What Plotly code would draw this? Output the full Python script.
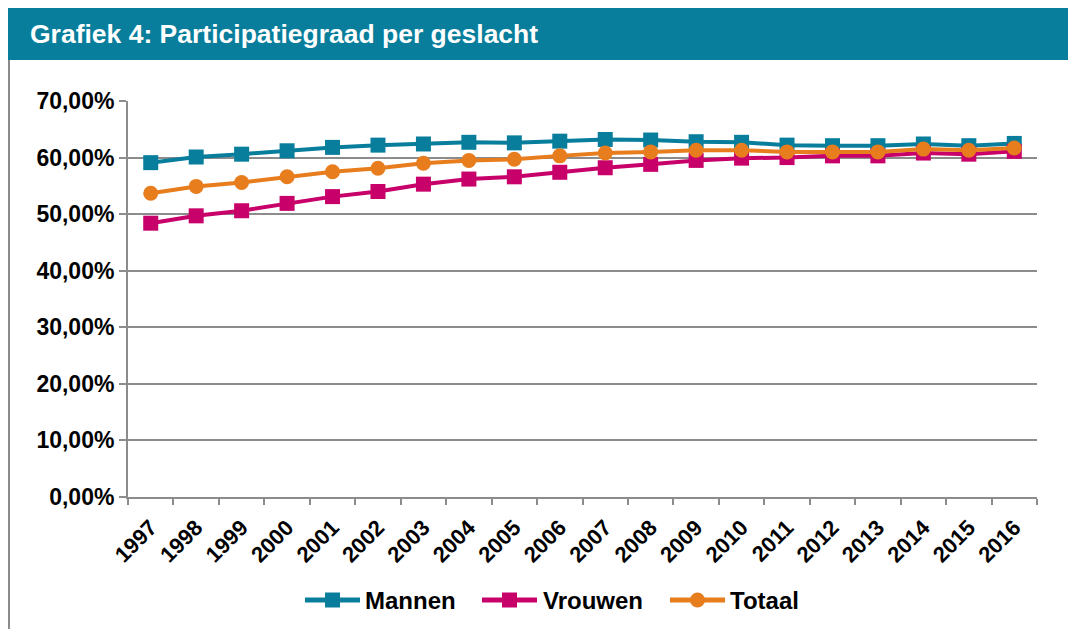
import plotly.graph_objects as go

years = [str(y) for y in range(1997, 2017)]
mannen = [59.1, 60.1, 60.6, 61.2, 61.8, 62.2, 62.4, 62.7, 62.6, 62.9,
          63.2, 63.1, 62.8, 62.7, 62.2, 62.1, 62.1, 62.4, 62.1, 62.5]
vrouwen = [48.4, 49.7, 50.6, 51.9, 53.1, 54.0, 55.3, 56.2, 56.6, 57.4,
           58.2, 58.8, 59.5, 59.9, 60.0, 60.3, 60.3, 60.8, 60.6, 61.1]
totaal = [53.7, 54.9, 55.6, 56.6, 57.5, 58.1, 59.0, 59.5, 59.7, 60.3,
          60.8, 61.0, 61.3, 61.3, 61.0, 61.0, 61.0, 61.5, 61.3, 61.7]
series_names = ["Mannen", "Vrouwen", "Totaal"]
y_ticks = [0, 10, 20, 30, 40, 50, 60, 70]
title_text = "Grafiek 4: Participatiegraad per geslacht"

TEAL = "#087E9C"
MAGENTA = "#C8006A"
ORANGE = "#E87D1E"
GRID = "#8C8C8C"
FONT = "Arial, Liberation Sans, sans-serif"

colors = [TEAL, MAGENTA, ORANGE]
symbols = ["square", "square", "circle"]
values = [mannen, vrouwen, totaal]

fig = go.Figure()
for name, vals, col, sym in zip(series_names, values, colors, symbols):
    fig.add_trace(go.Scatter(x=years, y=vals, name=name, mode="lines+markers",
                             line=dict(color=col, width=4),
                             marker=dict(symbol=sym, size=15, color=col),
                             showlegend=False))

# page body has an 8px margin: work in reference pixels, shift by OFF
OFF = 8
W, H = 1076 - OFF, 629 - OFF
L, T = 128 - OFF, 101 - OFF
R = 1076 - 1037
B = 629 - 497
pw, ph = W - L - R, H - T - B

def px(x):
    return (x - OFF - L) / pw

def py(y):
    return (H - B - (y - OFF)) / ph

fig.update_layout(
    width=W, height=H,
    margin=dict(l=L, r=R, t=T, b=B, autoexpand=False),
    paper_bgcolor="white", plot_bgcolor="white",
    font=dict(family=FONT, color="black"),
    showlegend=False,
    xaxis=dict(type="category", showgrid=False, showline=True, linecolor=GRID, linewidth=2,
               ticks="outside", tickson="boundaries", ticklen=6, tickcolor=GRID, tickwidth=2,
               tickangle=-45, tickfont=dict(family=FONT, size=22, color="black"),
               tickvals=years, ticktext=["<b>%s</b>" % y for y in years],
               ticklabelstandoff=7, range=[-0.5, 19.5]),
    yaxis=dict(range=[0, 70], tickvals=y_ticks,
               ticktext=["<b>%d,00%%</b>" % v for v in y_ticks],
               showgrid=True, gridcolor=GRID, gridwidth=2, zeroline=False,
               showline=True, linecolor=GRID, linewidth=2,
               ticks="outside", ticklen=7, tickcolor=GRID, tickwidth=2,
               tickfont=dict(family=FONT, size=23, color="black")),
)

# Title bar
fig.add_shape(type="rect", xref="paper", yref="paper",
              x0=px(8), x1=px(1080), y0=py(60), y1=py(7),
              fillcolor=TEAL, line=dict(width=0), layer="above")
# Left border
fig.add_shape(type="line", xref="paper", yref="paper",
              x0=px(9), x1=px(9), y0=py(632), y1=py(60),
              line=dict(color="#8A8A8A", width=2))
fig.add_annotation(text="<b>" + title_text + "</b>", xref="paper", yref="paper",
                   x=px(28), y=py(34), xanchor="left", yanchor="middle", showarrow=False,
                   font=dict(family=FONT, size=26.5, color="white"))

# Custom legend (line + marker + label), positions in reference pixels
leg_y = 600
leg_items = [(305, 360, 363), (482, 537, 541), (670, 725, 728)]
for (x0, x1, tx), name, col, sym in zip(leg_items, series_names, colors, symbols):
    fig.add_shape(type="line", xref="paper", yref="paper",
                  x0=px(x0), x1=px(x1), y0=py(leg_y), y1=py(leg_y),
                  line=dict(color=col, width=5))
    cx = (x0 + x1) / 2
    s = 7.5
    fig.add_shape(type="rect" if sym == "square" else "circle", xref="paper", yref="paper",
                  x0=px(cx - s), x1=px(cx + s), y0=py(leg_y + s), y1=py(leg_y - s),
                  fillcolor=col, line=dict(width=0))
    fig.add_annotation(text="<b>%s</b>" % name, xref="paper", yref="paper",
                       x=px(tx), y=py(leg_y), xanchor="left", yanchor="middle",
                       showarrow=False, font=dict(family=FONT, size=24, color="black"))

fig.write_html("out.html")
